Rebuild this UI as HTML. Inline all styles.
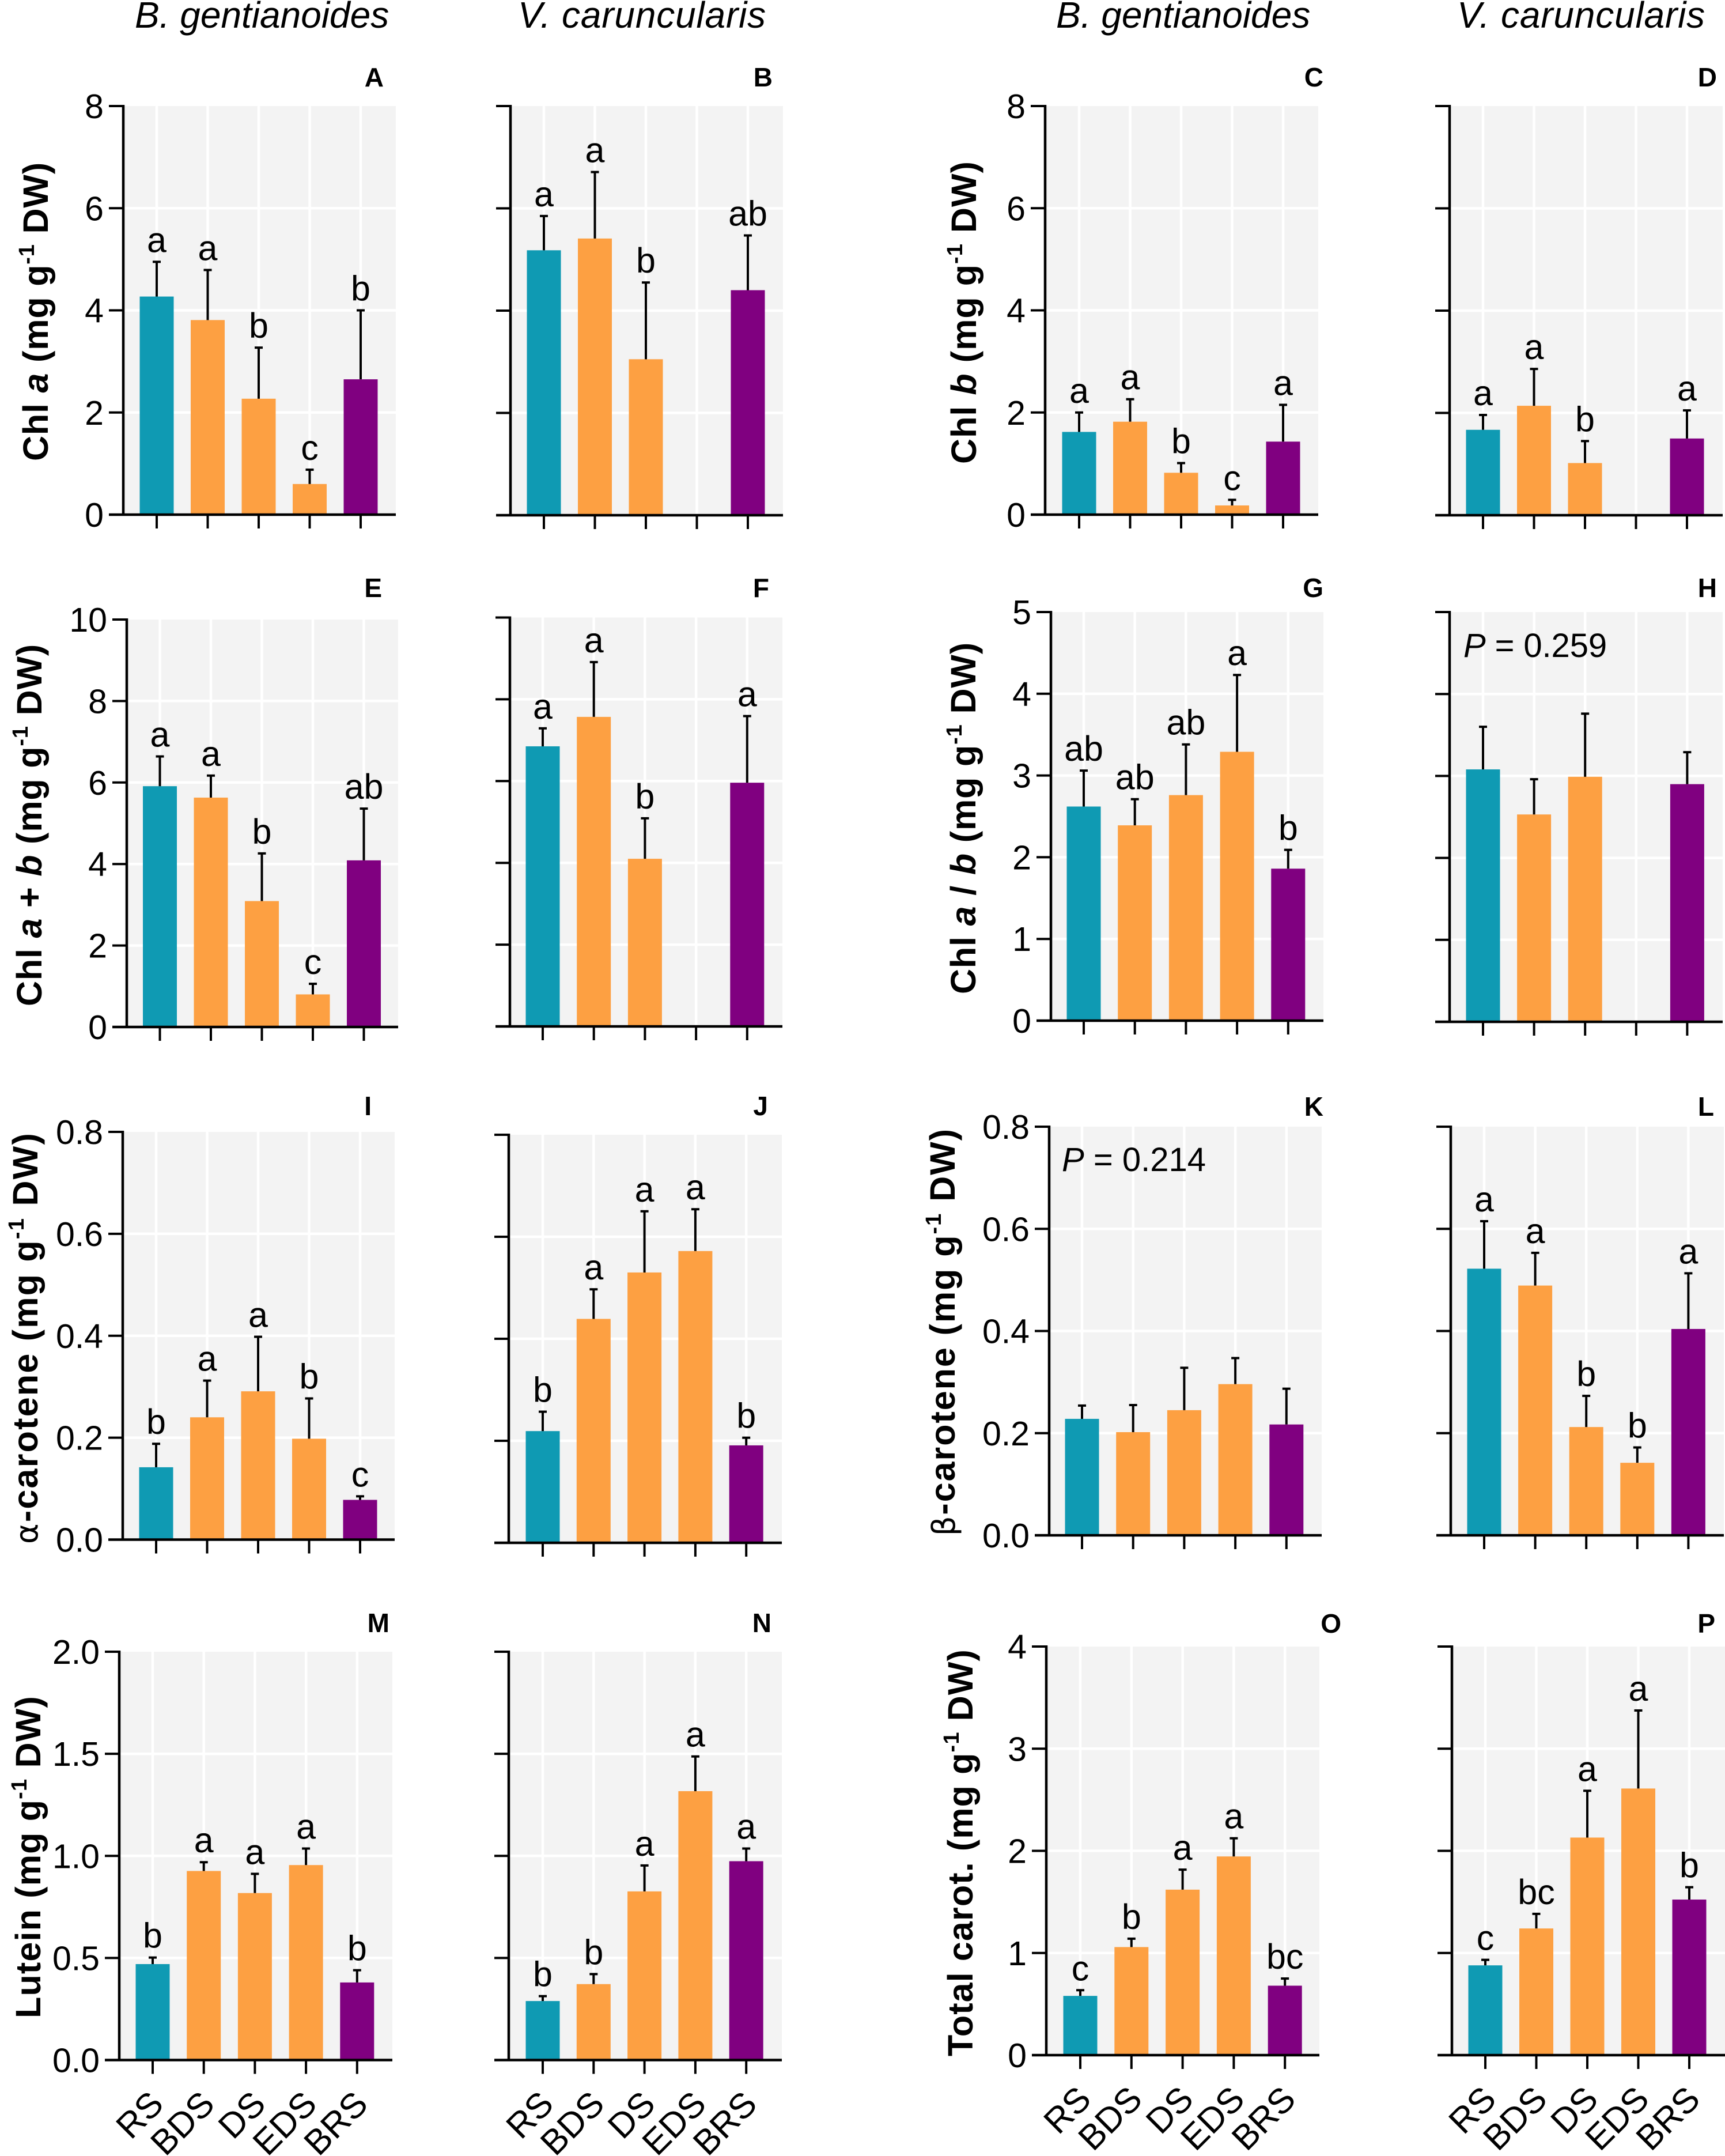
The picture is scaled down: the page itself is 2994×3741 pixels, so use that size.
<!DOCTYPE html>
<html lang="en">
<head>
<meta charset="utf-8">
<title>Pigment content bar charts</title>
<style>
html,body{margin:0;padding:0;background:#fff;}
svg{display:block;}
text{font-family:"Liberation Sans",Arial,sans-serif;fill:#000;}
.h{font-size:64px;font-style:italic;}
.yt{font-size:61px;font-weight:bold;}
.pl{font-size:46px;font-weight:bold;text-anchor:end;}
.pv{font-size:58px;}
.sup{font-size:38px;}
.i{font-style:italic;}
.sym{font-weight:normal;font-family:"DejaVu Sans","Liberation Sans",sans-serif;font-size:54px;}
</style>
</head>
<body>
<svg id="figure" xmlns="http://www.w3.org/2000/svg" width="2994" height="3741" viewBox="0 0 2994 3741">
<rect width="2994" height="3741" fill="#fff"/>
<g id="charts"></g>

<g>
<text class="h" x="234" y="48">B. gentianoides</text>
<text class="h fit" data-fit="431" x="899" y="48">V. caruncularis</text>
<text class="h" x="1833" y="48">B. gentianoides</text>
<text class="h fit" data-fit="431" x="2529" y="48">V. caruncularis</text>
</g>

<g>
<text class="pl" x="666" y="150">A</text>
<text class="pl" x="1341" y="150">B</text>
<text class="pl" x="2297" y="150">C</text>
<text class="pl" x="2980" y="150">D</text>
<text class="pl" x="663" y="1036">E</text>
<text class="pl" x="1335" y="1036">F</text>
<text class="pl" x="2297" y="1036">G</text>
<text class="pl" x="2980" y="1036">H</text>
<text class="pl" x="645" y="1935">I</text>
<text class="pl" x="1333" y="1935">J</text>
<text class="pl" x="2297" y="1936">K</text>
<text class="pl" x="2975" y="1936">L</text>
<text class="pl" x="676" y="2832">M</text>
<text class="pl" x="1339" y="2832">N</text>
<text class="pl" x="2328" y="2833">O</text>
<text class="pl" x="2977" y="2833">P</text>
</g>

<g>
<text class="yt fit" data-fit="519" transform="translate(83,800) rotate(-90)">Chl <tspan class="i">a</tspan> (mg g<tspan class="sup" dy="-24">-1</tspan><tspan dy="24"> DW)</tspan></text>
<text class="yt fit" data-fit="526" transform="translate(1694,805) rotate(-90)">Chl <tspan class="i">b</tspan> (mg g<tspan class="sup" dy="-24">-1</tspan><tspan dy="24"> DW)</tspan></text>
<text class="yt fit" data-fit="629" transform="translate(72,1746) rotate(-90)">Chl <tspan class="i">a</tspan> + <tspan class="i">b</tspan> (mg g<tspan class="sup" dy="-24">-1</tspan><tspan dy="24"> DW)</tspan></text>
<text class="yt fit" data-fit="611" transform="translate(1693,1725) rotate(-90)">Chl <tspan class="i">a</tspan> / <tspan class="i">b</tspan> (mg g<tspan class="sup" dy="-24">-1</tspan><tspan dy="24"> DW)</tspan></text>
<text class="yt fit" data-fit="715" transform="translate(65,2679) rotate(-90)"><tspan class="sym">α</tspan>-carotene (mg g<tspan class="sup" dy="-24">-1</tspan><tspan dy="24"> DW)</tspan></text>
<text class="yt fit" data-fit="708" transform="translate(1657,2665) rotate(-90)"><tspan class="sym">β</tspan>-carotene (mg g<tspan class="sup" dy="-24">-1</tspan><tspan dy="24"> DW)</tspan></text>
<text class="yt fit" data-fit="560" transform="translate(70,3502) rotate(-90)">Lutein (mg g<tspan class="sup" dy="-24">-1</tspan><tspan dy="24"> DW)</tspan></text>
<text class="yt fit" data-fit="707" transform="translate(1688,3568) rotate(-90)">Total carot. (mg g<tspan class="sup" dy="-24">-1</tspan><tspan dy="24"> DW)</tspan></text>
</g>

<g id="pvalues">
<text class="pv fit" data-fit="249" x="2540" y="1140"><tspan class="i">P</tspan> = 0.259</text>
<text class="pv fit" data-fit="250" x="1843" y="2032"><tspan class="i">P</tspan> = 0.214</text>
</g>
</svg>

<script>
// ---------- data ----------
const categories = ['RS', 'BDS', 'DS', 'EDS', 'BRS'];
const barColors = ['#0f9ab3', '#fda042', '#fda042', '#fda042', '#800080'];

const ticks8 = ['0', '2', '4', '6', '8'];
const ticks10 = ['0', '2', '4', '6', '8', '10'];
const ticks5 = ['0', '1', '2', '3', '4', '5'];
const ticks08 = ['0.0', '0.2', '0.4', '0.6', '0.8'];
const ticks20 = ['0.0', '0.5', '1.0', '1.5', '2.0'];
const ticks4 = ['0', '1', '2', '3', '4'];

const valuesA = [4.27, 3.81, 2.27, 0.60, 2.65];
const errorsA = [0.68, 0.98, 1.00, 0.28, 1.35];
const lettersA = ['a', 'a', 'b', 'c', 'b'];

const valuesB = [5.18, 5.41, 3.05, null, 4.40];
const errorsB = [0.67, 1.30, 1.50, null, 1.07];
const lettersB = ['a', 'a', 'b', '', 'ab'];

const valuesC = [1.62, 1.82, 0.82, 0.18, 1.43];
const errorsC = [0.38, 0.44, 0.19, 0.11, 0.72];
const lettersC = ['a', 'a', 'b', 'c', 'a'];

const valuesD = [1.67, 2.14, 1.02, null, 1.50];
const errorsD = [0.29, 0.72, 0.43, null, 0.55];
const lettersD = ['a', 'a', 'b', '', 'a'];

const valuesE = [5.91, 5.63, 3.09, 0.80, 4.09];
const errorsE = [0.73, 0.54, 1.17, 0.26, 1.27];
const lettersE = ['a', 'a', 'b', 'c', 'ab'];

const valuesF = [6.85, 7.57, 4.10, null, 5.96];
const errorsF = [0.44, 1.34, 0.99, null, 1.63];
const lettersF = ['a', 'a', 'b', '', 'a'];

const valuesG = [2.62, 2.39, 2.76, 3.29, 1.86];
const errorsG = [0.44, 0.32, 0.62, 0.94, 0.23];
const lettersG = ['ab', 'ab', 'ab', 'a', 'b'];

const valuesH = [3.08, 2.53, 2.99, null, 2.90];
const errorsH = [0.52, 0.43, 0.77, null, 0.39];
const lettersH = ['', '', '', '', ''];

const valuesI = [0.142, 0.240, 0.291, 0.198, 0.078];
const errorsI = [0.046, 0.072, 0.107, 0.079, 0.007];
const lettersI = ['b', 'a', 'a', 'b', 'c'];

const valuesJ = [0.219, 0.439, 0.530, 0.572, 0.191];
const errorsJ = [0.038, 0.058, 0.120, 0.082, 0.015];
const lettersJ = ['b', 'a', 'a', 'a', 'b'];

const valuesK = [0.228, 0.202, 0.245, 0.296, 0.217];
const errorsK = [0.026, 0.053, 0.083, 0.051, 0.070];
const lettersK = ['', '', '', '', ''];

const valuesL = [0.522, 0.489, 0.212, 0.142, 0.404];
const errorsL = [0.093, 0.064, 0.061, 0.030, 0.109];
const lettersL = ['a', 'a', 'b', 'b', 'a'];

const valuesM = [0.470, 0.926, 0.818, 0.955, 0.380];
const errorsM = [0.032, 0.043, 0.094, 0.081, 0.060];
const lettersM = ['b', 'a', 'a', 'a', 'b'];

const valuesN = [0.289, 0.372, 0.826, 1.317, 0.974];
const errorsN = [0.024, 0.049, 0.127, 0.170, 0.062];
const lettersN = ['b', 'b', 'a', 'a', 'a'];

const valuesO = [0.58, 1.058, 1.62, 1.945, 0.68];
const errorsO = [0.056, 0.082, 0.196, 0.178, 0.07];
const lettersO = ['c', 'b', 'a', 'a', 'bc'];

const valuesP = [0.879, 1.24, 2.13, 2.61, 1.523];
const errorsP = [0.054, 0.143, 0.458, 0.764, 0.121];
const lettersP = ['c', 'bc', 'a', 'a', 'b'];

// ---------- panel frames (geometry lives here, not in the data arrays) ----------
const frames = [
  {id:'a', v:valuesA, e:errorsA, l:lettersA, ticks:ticks8, showY:true,  x0:214,  top:184,  bot:893,  right:687,  first:272,  step:88.5},
  {id:'b', v:valuesB, e:errorsB, l:lettersB, ticks:ticks8, showY:false, x0:886,  top:184,  bot:894,  right:1359, first:944,  step:88.5},
  {id:'c', v:valuesC, e:errorsC, l:lettersC, ticks:ticks8, showY:true,  x0:1814, top:184,  bot:893,  right:2288, first:1873, step:88.5},
  {id:'d', v:valuesD, e:errorsD, l:lettersD, ticks:ticks8, showY:false, x0:2516, top:184,  bot:894,  right:2990, first:2574, step:88.5},
  {id:'e', v:valuesE, e:errorsE, l:lettersE, ticks:ticks10,showY:true,  x0:220,  top:1075, bot:1782, right:691,  first:277.5,step:88.5},
  {id:'f', v:valuesF, e:errorsF, l:lettersF, ticks:ticks10,showY:false, x0:885,  top:1071.5,bot:1781,right:1358, first:942,  step:88.7},
  {id:'g', v:valuesG, e:errorsG, l:lettersG, ticks:ticks5, showY:true,  x0:1824, top:1062, bot:1771, right:2297, first:1881, step:88.7},
  {id:'h', v:valuesH, e:errorsH, l:lettersH, ticks:ticks5, showY:false, x0:2516, top:1062, bot:1773, right:2990, first:2574, step:88.6},
  {id:'i', v:valuesI, e:errorsI, l:lettersI, ticks:ticks08,showY:true,  x0:213,  top:1964, bot:2671.5,right:685, first:271,  step:88.5},
  {id:'j', v:valuesJ, e:errorsJ, l:lettersJ, ticks:ticks08,showY:false, x0:883,  top:1969, bot:2677, right:1357, first:942,  step:88.3},
  {id:'k', v:valuesK, e:errorsK, l:lettersK, ticks:ticks08,showY:true,  x0:1821, top:1955, bot:2664, right:2294, first:1878, step:88.7},
  {id:'l', v:valuesL, e:errorsL, l:lettersL, ticks:ticks08,showY:false, x0:2518, top:1955, bot:2664, right:2992, first:2576, step:88.6},
  {id:'m', v:valuesM, e:errorsM, l:lettersM, ticks:ticks20,showY:true,  x0:207,  top:2866, bot:3574.5,right:681, first:265,  step:88.7, showX:true},
  {id:'n', v:valuesN, e:errorsN, l:lettersN, ticks:ticks20,showY:false, x0:883,  top:2866, bot:3574.5,right:1357,first:942,  step:88.3, showX:true},
  {id:'o', v:valuesO, e:errorsO, l:lettersO, ticks:ticks4, showY:true,  x0:1816, top:2857, bot:3566, right:2290, first:1875, step:88.8, showX:true},
  {id:'p', v:valuesP, e:errorsP, l:lettersP, ticks:ticks4, showY:false, x0:2520, top:2857, bot:3566, right:2994, first:2578, step:88.5, showX:true}
];

const SVGNS = 'http://www.w3.org/2000/svg';
function make(tag, attrs, parent) {
  const el = document.createElementNS(SVGNS, tag);
  for (const k in attrs) el.setAttribute(k, attrs[k]);
  parent.appendChild(el);
  return el;
}
function line(x1, y1, x2, y2, color, w, parent) {
  return make('line', {x1: x1, y1: y1, x2: x2, y2: y2, stroke: color, 'stroke-width': w}, parent);
}

const root = document.getElementById('charts');

frames.forEach(function (f) {
  const maxVal = parseFloat(f.ticks[f.ticks.length - 1]);
  const xScale = function (i) { return f.first + f.step * i; };
  const yScale = function (val) { return f.bot - (f.bot - f.top) * val / maxVal; };

  const g = make('g', {}, root);
  
  

  const plot = make('rect', {x: f.x0, y: f.top, width: f.right - f.x0, height: f.bot - f.top, fill: '#f3f3f3'}, g);
  
  

  f.ticks.forEach(function (t, k) {
    if (k === 0 || k === f.ticks.length - 1) return;
    const gl = line(f.x0, yScale(parseFloat(t)), f.right, yScale(parseFloat(t)), '#ffffff', 4.5, g);
    
    
  });
  categories.forEach(function (c, i) {
    const gl = line(xScale(i), f.top, xScale(i), f.bot, '#ffffff', 4.5, g);
    
    
  });

  categories.forEach(function (c, i) {
    const val = f.v[i];
    if (val === null) return;
    const bar = make('rect', {x: xScale(i) - 29.5, y: yScale(val), width: 59, height: f.bot - yScale(val), fill: barColors[i]}, g);
    
    

    const topY = yScale(val + f.e[i]);
    const stem = line(xScale(i), yScale(val), xScale(i), topY, '#000', 4, g);
    
    
    const cap = line(xScale(i) - 7, topY, xScale(i) + 7, topY, '#000', 4, g);
    
    

    if (f.l[i]) {
      const lab = make('text', {x: xScale(i), y: topY - 17, 'text-anchor': 'middle', 'font-size': 61}, g);
      lab.textContent = f.l[i];
      
      
    }
  });

  const yAxis = line(f.x0, f.top - 2, f.x0, f.bot + 2, '#000', 4.5, g);
  
  
  const xAxis = line(f.x0 - 25, f.bot, f.right, f.bot, '#000', 4.5, g);
  
  

  f.ticks.forEach(function (t) {
    const yy = yScale(parseFloat(t));
    const tick = line(f.x0 - 25, yy, f.x0, yy, '#000', 4, g);
    
    
    if (f.showY) {
      const tl = make('text', {x: f.x0 - 34, y: yy + 21, 'text-anchor': 'end', 'font-size': 59}, g);
      tl.textContent = t;
      
      
    }
  });

  categories.forEach(function (c, i) {
    const tick = line(xScale(i), f.bot, xScale(i), f.bot + 24, '#000', 4, g);
    
    
    if (f.showX) {
      const ax = xScale(i) + 22, ay = f.bot + 80;
      const tl = make('text', {x: ax, y: ay, 'text-anchor': 'end', 'font-size': 61, transform: 'rotate(-45 ' + ax + ' ' + ay + ')'}, g);
      tl.textContent = c;
      
      
    }
  });
});

// stretch axis titles, headers and P-values to their measured lengths using letter-spacing
document.querySelectorAll('.fit').forEach(function (t) {
  const target = parseFloat(t.getAttribute('data-fit'));
  const len = t.getComputedTextLength();
  const n = t.textContent.length;
  t.style.letterSpacing = ((target - len) / n) + 'px';
});
</script>
</body>
</html>
